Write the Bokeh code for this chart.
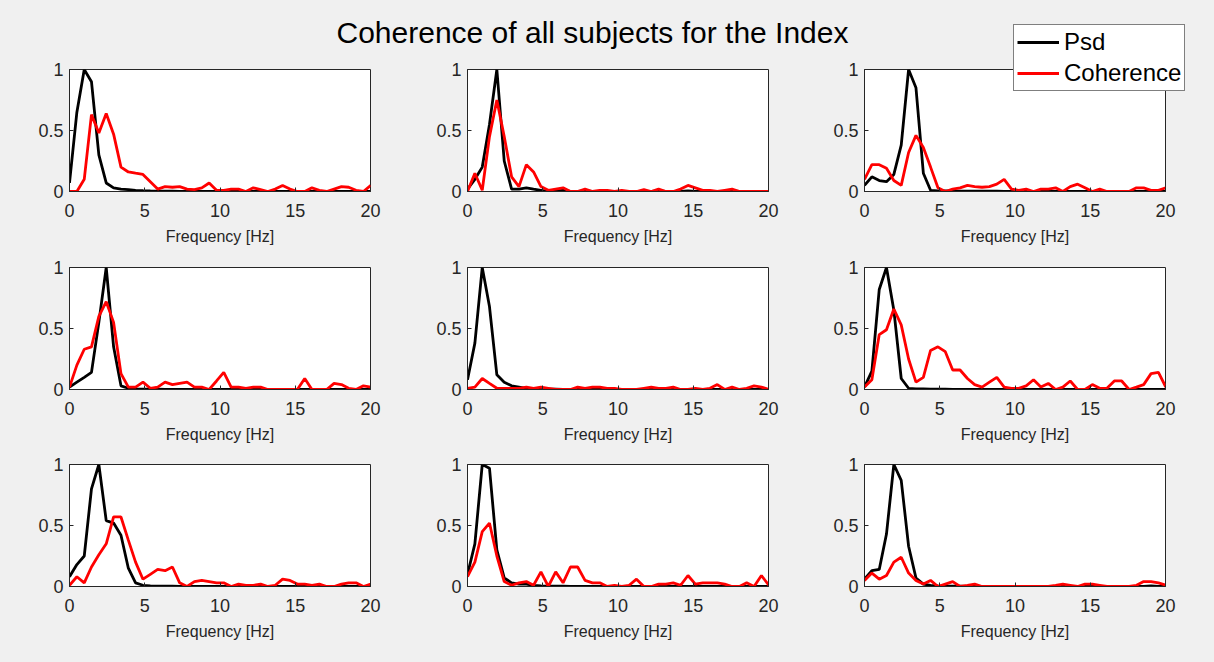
from bokeh.plotting import figure
from bokeh.layouts import column
from bokeh.models import Label, FixedTicker, NumeralTickFormatter, Range1d, GridBox
from bokeh.embed import file_html
from bokeh.resources import INLINE

title_text = "Coherence of all subjects for the Index"
x_label = "Frequency [Hz]"
series_names = ["Psd", "Coherence"]
x_ticks = [0, 5, 10, 15, 20]
y_ticks = [0, 0.5, 1]

freq = [0.0, 0.49, 0.98, 1.46, 1.95, 2.44, 2.93, 3.42, 3.91, 4.39, 4.88, 5.37,
        5.86, 6.35, 6.84, 7.32, 7.81, 8.3, 8.79, 9.28, 9.77, 10.25, 10.74, 11.23,
        11.72, 12.21, 12.7, 13.18, 13.67, 14.16, 14.65, 15.14, 15.63, 16.11, 16.6,
        17.09, 17.58, 18.07, 18.55, 19.04, 19.53, 20.02]

psd_1 = [0.07, 0.65, 1.0, 0.9, 0.3, 0.07, 0.03, 0.02, 0.015, 0.01, 0.006, 0.004,
         0.003, 0.002, 0.002, 0.001, 0.001, 0.001, 0.001, 0.001, 0.0, 0.0, 0.0, 0.0,
         0.0, 0.0, 0.0, 0.0, 0.0, 0.0, 0.0, 0.0, 0.0, 0.0, 0.0, 0.0, 0.0, 0.0, 0.0, 0.0, 0.0, 0.0]
coh_1 = [0.0, 0.0, 0.1, 0.63, 0.48, 0.64, 0.47, 0.2, 0.16, 0.15, 0.14, 0.08,
         0.02, 0.04, 0.035, 0.04, 0.02, 0.015, 0.03, 0.07, 0.01, 0.01, 0.02, 0.02,
         0.0, 0.03, 0.015, 0.0, 0.02, 0.05, 0.02, 0.0, 0.0, 0.03, 0.01, 0.0, 0.02,
         0.04, 0.035, 0.01, 0.0, 0.05]

psd_2 = [0.02, 0.1, 0.2, 0.55, 1.0, 0.25, 0.02, 0.02, 0.03, 0.02, 0.01, 0.0,
         0.005, 0.01, 0.0, 0.0, 0.005, 0.0, 0.0, 0.0, 0.0, 0.0, 0.0, 0.0,
         0.0, 0.0, 0.005, 0.0, 0.0, 0.0, 0.005, 0.0, 0.0, 0.0, 0.0, 0.0, 0.005,
         0.0, 0.0, 0.0, 0.0, 0.0]
coh_2 = [0.0, 0.15, 0.01, 0.45, 0.75, 0.45, 0.12, 0.04, 0.22, 0.16, 0.04, 0.01,
         0.02, 0.03, 0.0, 0.0, 0.02, 0.0, 0.01, 0.01, 0.0, 0.01, 0.0, 0.0,
         0.015, 0.0, 0.02, 0.0, 0.0, 0.02, 0.05, 0.03, 0.01, 0.01, 0.0, 0.01, 0.02,
         0.0, 0.0, 0.0, 0.0, 0.0]

psd_3 = [0.05, 0.12, 0.09, 0.08, 0.14, 0.38, 1.0, 0.85, 0.15, 0.01, 0.005, 0.004,
         0.003, 0.003, 0.002, 0.002, 0.002, 0.002, 0.002, 0.001, 0.001, 0.001, 0.0, 0.0,
         0.0, 0.0, 0.0, 0.0, 0.0, 0.0, 0.0, 0.0, 0.0, 0.0, 0.0, 0.0, 0.0, 0.0, 0.0, 0.0, 0.0, 0.0]
coh_3 = [0.1, 0.22, 0.22, 0.19, 0.09, 0.05, 0.32, 0.46, 0.36, 0.2, 0.03, 0.0,
         0.02, 0.03, 0.05, 0.04, 0.035, 0.04, 0.06, 0.1, 0.02, 0.01, 0.02, 0.0,
         0.02, 0.02, 0.03, 0.0, 0.04, 0.06, 0.03, 0.0, 0.02, 0.0, 0.0, 0.0, 0.0,
         0.03, 0.03, 0.01, 0.01, 0.03]

psd_4 = [0.02, 0.06, 0.1, 0.14, 0.55, 1.0, 0.35, 0.03, 0.01, 0.005, 0.003, 0.002,
         0.002, 0.001, 0.001, 0.001, 0.001, 0.0, 0.0, 0.0, 0.0, 0.0, 0.0, 0.0,
         0.0, 0.0, 0.0, 0.0, 0.0, 0.0, 0.0, 0.0, 0.0, 0.0, 0.0, 0.0, 0.0, 0.0, 0.0, 0.0, 0.0, 0.0]
coh_4 = [0.02, 0.2, 0.33, 0.35, 0.6, 0.72, 0.55, 0.13, 0.02, 0.02, 0.06, 0.01,
         0.02, 0.06, 0.04, 0.05, 0.06, 0.02, 0.02, 0.0, 0.07, 0.14, 0.02, 0.02,
         0.01, 0.02, 0.02, 0.0, 0.0, 0.0, 0.0, 0.0, 0.09, 0.0, 0.0, 0.0, 0.05,
         0.04, 0.01, 0.0, 0.03, 0.02]

psd_5 = [0.08, 0.38, 1.0, 0.68, 0.12, 0.06, 0.03, 0.02, 0.01, 0.005, 0.003, 0.002,
         0.002, 0.001, 0.001, 0.001, 0.001, 0.0, 0.0, 0.0, 0.0, 0.0, 0.0, 0.0,
         0.0, 0.0, 0.0, 0.0, 0.0, 0.0, 0.0, 0.0, 0.0, 0.0, 0.0, 0.0, 0.0, 0.0, 0.0, 0.0, 0.0, 0.0]
coh_5 = [0.01, 0.02, 0.09, 0.05, 0.01, 0.01, 0.01, 0.01, 0.02, 0.01, 0.02, 0.01,
         0.0, 0.0, 0.0, 0.02, 0.01, 0.02, 0.02, 0.01, 0.01, 0.0, 0.0, 0.0,
         0.01, 0.02, 0.01, 0.01, 0.02, 0.0, 0.0, 0.01, 0.0, 0.01, 0.04, 0.0, 0.02,
         0.0, 0.01, 0.03, 0.02, 0.0]

psd_6 = [0.02, 0.15, 0.82, 1.0, 0.65, 0.09, 0.01, 0.005, 0.004, 0.003, 0.002, 0.002,
         0.001, 0.001, 0.001, 0.001, 0.0, 0.0, 0.0, 0.0, 0.0, 0.0, 0.0, 0.0,
         0.0, 0.0, 0.0, 0.0, 0.0, 0.0, 0.0, 0.0, 0.0, 0.0, 0.0, 0.0, 0.0, 0.0, 0.0, 0.0, 0.0, 0.0]
coh_6 = [0.02, 0.08, 0.45, 0.49, 0.66, 0.53, 0.25, 0.06, 0.1, 0.32, 0.35, 0.31,
         0.16, 0.16, 0.09, 0.04, 0.02, 0.06, 0.1, 0.02, 0.01, 0.01, 0.03, 0.08,
         0.02, 0.05, 0.0, 0.02, 0.07, 0.0, 0.0, 0.04, 0.01, 0.01, 0.07, 0.07, 0.0,
         0.02, 0.04, 0.13, 0.14, 0.02]

psd_7 = [0.08, 0.18, 0.25, 0.8, 1.0, 0.54, 0.52, 0.42, 0.15, 0.03, 0.01, 0.005,
         0.003, 0.002, 0.002, 0.001, 0.001, 0.001, 0.0, 0.0, 0.0, 0.0, 0.0, 0.0,
         0.0, 0.0, 0.0, 0.0, 0.0, 0.0, 0.0, 0.0, 0.0, 0.0, 0.0, 0.0, 0.0, 0.0, 0.0, 0.0, 0.0, 0.0]
coh_7 = [0.01, 0.08, 0.03, 0.16, 0.26, 0.35, 0.57, 0.57, 0.38, 0.2, 0.06, 0.1,
         0.14, 0.13, 0.16, 0.03, 0.0, 0.04, 0.05, 0.04, 0.03, 0.03, 0.0, 0.02,
         0.01, 0.01, 0.02, 0.0, 0.01, 0.06, 0.05, 0.02, 0.02, 0.01, 0.02, 0.0, 0.0,
         0.02, 0.03, 0.03, 0.0, 0.02]

psd_8 = [0.1, 0.35, 1.0, 0.97, 0.3, 0.07, 0.03, 0.02, 0.02, 0.01, 0.005, 0.003,
         0.002, 0.002, 0.001, 0.001, 0.001, 0.0, 0.0, 0.0, 0.0, 0.0, 0.0, 0.0,
         0.0, 0.0, 0.0, 0.0, 0.0, 0.0, 0.0, 0.0, 0.0, 0.0, 0.0, 0.0, 0.0, 0.0, 0.0, 0.0, 0.0, 0.0]
coh_8 = [0.08, 0.2, 0.45, 0.52, 0.25, 0.04, 0.01, 0.03, 0.04, 0.01, 0.12, 0.0,
         0.12, 0.03, 0.16, 0.16, 0.05, 0.03, 0.03, 0.0, 0.01, 0.0, 0.01, 0.06,
         0.0, 0.0, 0.02, 0.02, 0.03, 0.01, 0.09, 0.02, 0.03, 0.03, 0.03, 0.02, 0.0,
         0.0, 0.03, 0.0, 0.09, 0.01]

psd_9 = [0.06, 0.13, 0.14, 0.43, 1.0, 0.87, 0.33, 0.07, 0.02, 0.01, 0.005, 0.003,
         0.002, 0.002, 0.001, 0.001, 0.001, 0.0, 0.0, 0.0, 0.0, 0.0, 0.0, 0.0,
         0.0, 0.0, 0.0, 0.005, 0.0, 0.0, 0.0, 0.005, 0.0, 0.0, 0.0, 0.0, 0.0, 0.0, 0.0, 0.005, 0.0, 0.0]
coh_9 = [0.05, 0.11, 0.06, 0.09, 0.2, 0.24, 0.11, 0.05, 0.02, 0.05, 0.0, 0.02,
         0.04, 0.0, 0.01, 0.02, 0.0, 0.0, 0.0, 0.0, 0.0, 0.0, 0.0, 0.0,
         0.0, 0.0, 0.01, 0.02, 0.01, 0.0, 0.02, 0.02, 0.01, 0.0, 0.0, 0.0, 0.0,
         0.01, 0.04, 0.04, 0.03, 0.01]

psd_all = [psd_1, psd_2, psd_3, psd_4, psd_5, psd_6, psd_7, psd_8, psd_9]
coh_all = [coh_1, coh_2, coh_3, coh_4, coh_5, coh_6, coh_7, coh_8, coh_9]

FONT = "Liberation Sans"
AX = "#262626"
BG = "#f0f0f0"
LW = 2.8

col_left = [69, 61, 60]
col_right = [36, 36, 49]
row_top = [69, 12, 12]
row_bottom = [64, 63, 76]
FW, FH = 301, 122

children = []
for i in range(9):
    r, c = divmod(i, 3)
    p = figure(frame_width=FW, frame_height=FH, output_backend="svg",
               toolbar_location=None, tools="",
               x_range=Range1d(0, 20), y_range=Range1d(0, 1),
               min_border_left=col_left[c], min_border_right=col_right[c],
               min_border_top=row_top[r], min_border_bottom=row_bottom[r])
    p.border_fill_color = BG
    p.background_fill_color = "white"
    p.outline_line_color = AX
    p.outline_line_width = 1
    p.grid.visible = False
    for ax in (p.xaxis[0], p.yaxis[0]):
        ax.axis_line_color = AX
        ax.major_tick_line_color = AX
        ax.major_tick_in = 4
        ax.major_tick_out = 0
        ax.minor_tick_line_color = None
        ax.major_label_text_font = FONT
        ax.major_label_text_font_size = "18px"
        ax.major_label_text_color = AX
    p.xaxis.ticker = FixedTicker(ticks=x_ticks)
    p.yaxis.ticker = FixedTicker(ticks=y_ticks)
    p.yaxis.formatter = NumeralTickFormatter(format="0.[0]")
    p.xaxis.major_label_standoff = 12
    p.yaxis.major_label_standoff = 6
    p.xaxis.axis_label = x_label
    p.xaxis.axis_label_text_font = FONT
    p.xaxis.axis_label_text_font_size = "16px"
    p.xaxis.axis_label_text_font_style = "normal"
    p.xaxis.axis_label_text_color = AX
    p.xaxis.axis_label_standoff = 8

    p.line(freq, psd_all[i], line_color="black", line_width=LW)
    p.line(freq, coh_all[i], line_color="red", line_width=LW)
    children.append((p, r, c))

# transparent header layer on top: suptitle + legend (legend entries refer to
# the third subplot's series, drawn here outside the visible range)
header = figure(width=1214, height=92, output_backend="svg", toolbar_location=None,
                tools="", x_range=Range1d(1000, 1001), y_range=Range1d(1000, 1001),
                x_axis_type=None, y_axis_type=None,
                min_border=0, min_border_left=0, min_border_right=0,
                min_border_top=0, min_border_bottom=0)
header.border_fill_alpha = 0
header.background_fill_alpha = 0
header.outline_line_color = None
header.grid.visible = False
header.line(freq, psd_3, line_color="black", line_width=LW, legend_label=series_names[0])
header.line(freq, coh_3, line_color="red", line_width=LW, legend_label=series_names[1])
lg = header.legend[0]
lg.location = (1013, 1)
lg.border_line_color = "black"
lg.border_line_width = 1
lg.background_fill_color = "white"
lg.background_fill_alpha = 1
lg.label_text_font = FONT
lg.label_text_font_size = "24px"
lg.label_text_color = "black"
lg.label_text_baseline = "middle"
lg.glyph_width = 42
lg.glyph_height = 24
lg.label_height = 24
lg.label_standoff = 5
lg.spacing = 3
lg.padding = 3
lg.margin = 0
header.add_layout(Label(x=592, y=60, x_units="screen", y_units="screen",
                        text=title_text, text_align="center",
                        text_baseline="alphabetic", text_font=FONT,
                        text_font_size="30px", text_color="black"))
header_box = column(header, width=1214, height=92)
children.append((header_box, 0, 0, 1, 3))

grid = GridBox(children=children, spacing=0,
               styles={"background-color": BG})

open("out.html", "w").write(file_html(grid, INLINE, title="Coherence"))
